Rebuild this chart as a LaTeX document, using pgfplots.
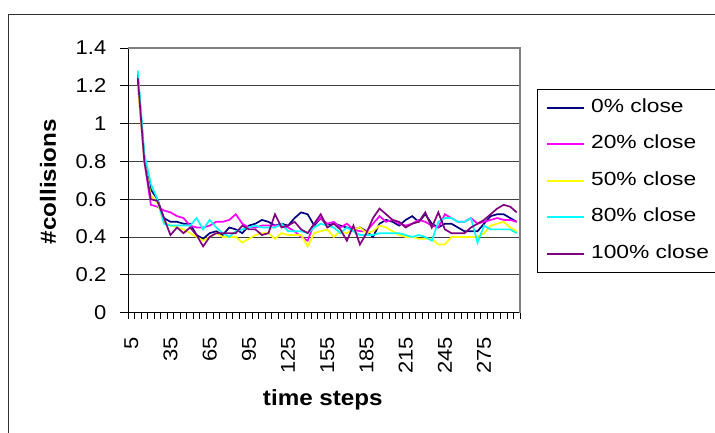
\documentclass[border=0pt]{standalone}
\usepackage{fontspec}
\setmainfont{Liberation Sans}
\newfontfamily\tickfont[FakeStretch=1.1]{Liberation Sans}
\newfontfamily\legfont[FakeStretch=1.2]{Liberation Sans}
\newfontfamily\labfont[FakeStretch=1.1]{Liberation Sans}
\usepackage{pgfplots}
\usepackage{pgfplotstable}
\pgfplotsset{compat=1.18}
\definecolor{c0}{RGB}{0,0,128}
\definecolor{c1}{RGB}{255,0,255}
\definecolor{c2}{RGB}{255,255,0}
\definecolor{c3}{RGB}{0,255,255}
\definecolor{c4}{RGB}{128,0,128}
\pgfplotstableread{
t a b c d e
10 1.26 1.22 1.20 1.28 1.24
15 0.82 0.80 0.80 0.84 0.80
20 0.65 0.57 0.62 0.68 0.60
25 0.60 0.56 0.58 0.60 0.59
30 0.50 0.54 0.48 0.47 0.50
35 0.48 0.53 0.46 0.46 0.41
40 0.48 0.51 0.45 0.46 0.45
45 0.47 0.50 0.44 0.46 0.42
50 0.47 0.46 0.42 0.46 0.45
55 0.41 0.45 0.40 0.50 0.41
60 0.39 0.45 0.38 0.44 0.35
65 0.42 0.46 0.40 0.49 0.40
70 0.43 0.48 0.42 0.45 0.42
75 0.41 0.48 0.40 0.42 0.42
80 0.45 0.49 0.40 0.40 0.42
85 0.44 0.52 0.40 0.43 0.42
90 0.42 0.47 0.37 0.44 0.46
95 0.46 0.45 0.39 0.45 0.44
100 0.47 0.45 0.41 0.46 0.44
105 0.49 0.46 0.42 0.45 0.41
110 0.48 0.46 0.42 0.45 0.42
115 0.46 0.46 0.39 0.45 0.52
120 0.47 0.46 0.42 0.47 0.45
125 0.46 0.45 0.41 0.43 0.46
130 0.50 0.43 0.41 0.43 0.48
135 0.53 0.40 0.41 0.43 0.44
140 0.52 0.38 0.35 0.42 0.42
145 0.46 0.47 0.42 0.45 0.47
150 0.50 0.50 0.43 0.47 0.52
155 0.46 0.47 0.44 0.46 0.45
160 0.47 0.48 0.40 0.45 0.47
165 0.46 0.45 0.43 0.42 0.44
170 0.45 0.47 0.42 0.45 0.38
175 0.44 0.44 0.44 0.43 0.46
180 0.45 0.43 0.45 0.41 0.36
185 0.43 0.43 0.42 0.41 0.42
190 0.40 0.47 0.43 0.41 0.50
195 0.47 0.51 0.46 0.42 0.55
200 0.49 0.48 0.45 0.42 0.52
205 0.48 0.49 0.43 0.42 0.49
210 0.46 0.47 0.41 0.42 0.48
215 0.49 0.46 0.40 0.41 0.45
220 0.51 0.47 0.40 0.40 0.47
225 0.48 0.49 0.39 0.41 0.48
230 0.52 0.48 0.39 0.40 0.53
235 0.47 0.46 0.39 0.38 0.45
240 0.45 0.45 0.36 0.48 0.53
245 0.47 0.52 0.36 0.50 0.44
250 0.47 0.50 0.40 0.50 0.42
255 0.45 0.48 0.40 0.48 0.42
260 0.43 0.48 0.40 0.48 0.42
265 0.43 0.50 0.40 0.50 0.45
270 0.43 0.47 0.40 0.37 0.47
275 0.47 0.48 0.42 0.46 0.49
280 0.51 0.49 0.46 0.44 0.52
285 0.52 0.50 0.47 0.44 0.55
290 0.52 0.49 0.48 0.44 0.57
295 0.50 0.49 0.45 0.44 0.56
300 0.48 0.48 0.43 0.42 0.53
}\data
\begin{document}
\begin{tikzpicture}[x=1pt,y=1pt]
\useasboundingbox (0,0) rectangle (715,432);
\draw[black!80, line width=1pt] (8,-5) -- (8,417) -- (725,417);
\begin{axis}[
  at={(128pt,119.5pt)}, anchor=south west,
  scale only axis, width=392pt, height=264.5pt,
  xmin=2.5, xmax=302.5, ymin=0, ymax=1.4,
  axis line style={black, line width=0.9pt},
  no markers,
  /pgf/number format/assume math mode=true,
  tick align=outside,
  major tick length=8pt, minor tick length=6pt,
  xtick={5,35,65,95,125,155,185,215,245,275},
  xticklabels={5,35,65,95,125,155,185,215,245,275},
  minor xtick={2.5,7.5,...,302.5},
  major x tick style={draw=none},
  minor x tick style={black, line width=0.8pt},
  ytick={0,0.2,0.4,0.6,0.8,1,1.2,1.4},
  yticklabels={0,0.2,0.4,0.6,0.8,1,1.2,1.4},
  y tick style={black, line width=0.8pt},
  ymajorgrids, grid style={black!75, line width=0.8pt},
  xticklabel style={rotate=90, anchor=east, inner xsep=16.5pt, font=\tickfont\fontsize{20}{20}\selectfont},
  yticklabel style={inner xsep=13.5pt, font=\tickfont\fontsize{20}{20}\selectfont},
  xlabel={time steps},
  xlabel style={at={(axis description cs:0.497,-0.33)}, anchor=center, font=\labfont\bfseries\fontsize{22}{22}\selectfont},
  ylabel={\#collisions},
  ylabel style={at={(axis description cs:-0.204,0.495)}, anchor=center, font=\labfont\bfseries\fontsize{22}{22}\selectfont},
  legend style={at={(1.0434,0.8459)}, anchor=north west, draw=black, line width=0.8pt, fill=white,
    font=\legfont\fontsize{19}{19}\selectfont, inner xsep=9pt, inner ysep=10pt, row sep=19.5pt, column sep=6pt,
    nodes={inner sep=0pt, text height=13pt, text depth=4pt}},
  legend cell align=left,
  legend image code/.code={\draw[#1, line width=1.7pt] (0pt,0pt) -- (37pt,0pt);},
]
\addplot[color=c0, line width=1.7pt] table[x=t,y=a] {\data};
\addlegendentry{0\% close}
\addplot[color=c1, line width=1.7pt] table[x=t,y=b] {\data};
\addlegendentry{20\% close}
\addplot[color=c2, line width=1.7pt] table[x=t,y=c] {\data};
\addlegendentry{50\% close}
\addplot[color=c3, line width=1.7pt] table[x=t,y=d] {\data};
\addlegendentry{80\% close}
\addplot[color=c4, line width=1.7pt] table[x=t,y=e] {\data};
\addlegendentry{100\% close}
\end{axis}
\fill[white] (126,384.9) rectangle (522,394);
\fill[white] (520.6,118) rectangle (530,386);
\draw[gray, line width=1.3pt] (128,384) -- (520,384) -- (520,119.5);
\end{tikzpicture}
\end{document}
